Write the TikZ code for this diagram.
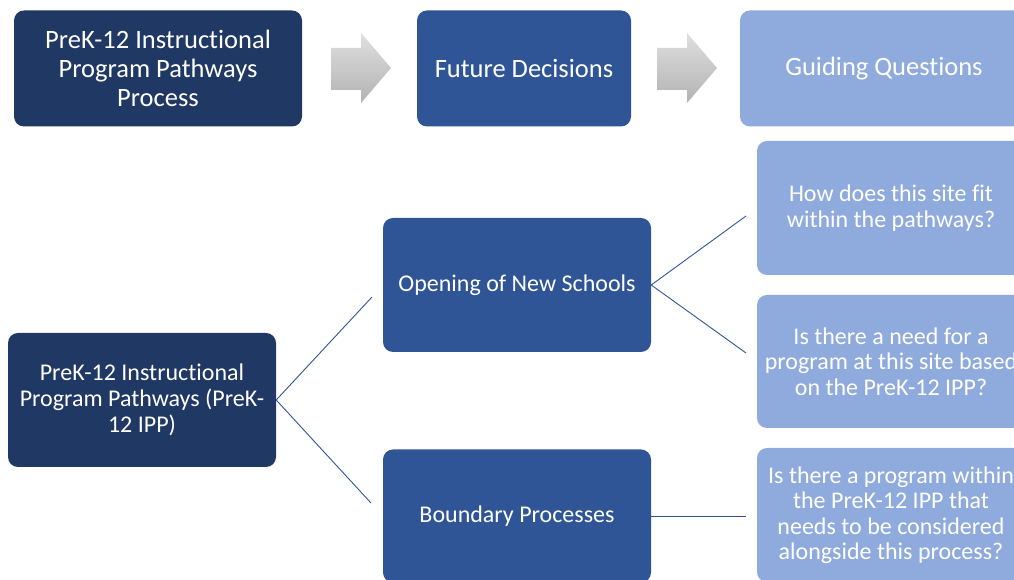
\documentclass[tikz,border=0pt]{standalone}
\usepackage{fontspec}
\setmainfont{Carlito}[Ligatures={NoCommon,NoRare}]
\definecolor{navy}{HTML}{203864}
\definecolor{midblue}{HTML}{2F5597}
\definecolor{lightblue}{HTML}{8FAADC}
\tikzset{
  box/.style={rounded corners=10pt, text=white, align=center, inner sep=2pt},
  bigtxt/.style={font=\fontsize{26.5}{29}\selectfont},
  smalltxt/.style={font=\fontsize{24}{26.3}\selectfont},
  qtxt/.style={font=\fontsize{24}{25.5}\selectfont},
  darkbox/.style={box, fill=navy},
  midbox/.style={box, fill=midblue},
  lightbox/.style={box, fill=lightblue},
  flowarrow/.style={top color=gray!25, bottom color=gray!60, draw=none},
  conn/.style={draw=midblue, line width=0.9pt}
}
\begin{document}
\begin{tikzpicture}[x=1pt,y=1pt]
\useasboundingbox (0,0) rectangle (1014,580);
\clip (0,0) rectangle (1014,580);
% top row
\node[darkbox, bigtxt, minimum width=288pt, minimum height=116pt] (a) at (158,511.5)
  {PreK-12 Instructional\\Program Pathways\\Process};
\node[midbox, bigtxt, minimum width=214pt, minimum height=116pt] (b) at (524,511.5)
  {Future Decisions};
\node[lightbox, bigtxt, minimum width=288pt, minimum height=116pt] (c) at (884,511.5)
  {Guiding Questions};
\shade[flowarrow] (331,490) -- (361,490) -- (361,477) -- (391,512) -- (361,547) -- (361,532) -- (331,532) -- cycle;
\shade[flowarrow] (657,490) -- (687,490) -- (687,477) -- (717,512) -- (687,547) -- (687,532) -- (657,532) -- cycle;
% hierarchy
\node[darkbox, smalltxt, minimum width=268pt, minimum height=134pt] (d) at (142,180)
  {PreK-12 Instructional\\Program Pathways (PreK-\\12 IPP)};
\node[midbox, smalltxt, minimum width=268pt, minimum height=134pt] (e) at (517,295)
  {Opening of New Schools};
\node[midbox, smalltxt, minimum width=268pt, minimum height=133pt] (f) at (517,64)
  {Boundary Processes};
\node[lightbox, qtxt, minimum width=268pt, minimum height=134pt] (g) at (891,372)
  {How does this site fit\\within the pathways?};
\node[lightbox, qtxt, minimum width=268pt, minimum height=133pt] (h) at (891,218.5)
  {Is there a need for a\\program at this site based\\on the PreK-12 IPP?};
\node[lightbox, qtxt, minimum width=268pt, minimum height=134pt] (i) at (891,65)
  {Is there a program within\\the PreK-12 IPP that\\needs to be considered\\alongside this process?};
% connector ends
\coordinate (de) at (372,283);
\coordinate (df) at (371,77);
\coordinate (eg) at (746,364);
\coordinate (eh) at (746,227);
\coordinate (fi) at (746,64);
\draw[conn] (d.east) -- (de);
\draw[conn] (d.east) -- (df);
\draw[conn] (e.east) -- (eg);
\draw[conn] (e.east) -- (eh);
\draw[conn] (f.east |- fi) -- (fi);
\end{tikzpicture}
\end{document}
